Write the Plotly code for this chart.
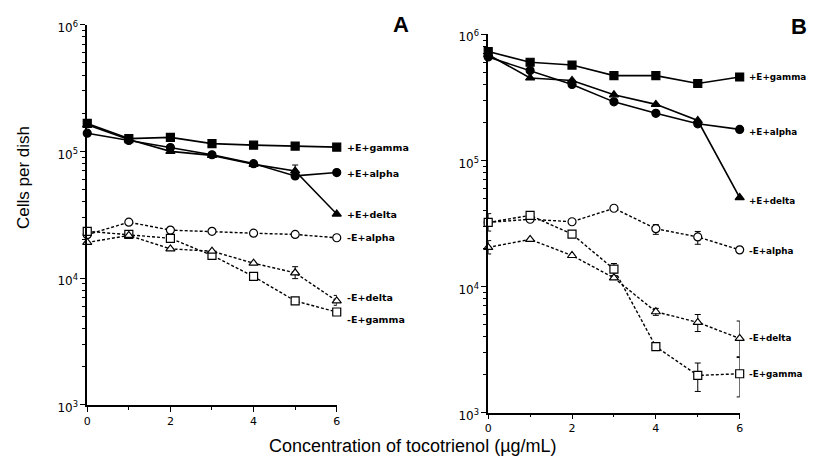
import plotly.graph_objects as go
import math

# ---------------- data ----------------
conc = [0, 1, 2, 3, 4, 5, 6]

# Panel A
a_pE_gamma = [166000, 126000, 129000, 115000, 112000, 110000, 108000]
a_pE_alpha = [139000, 122000, 107000, 94000, 80000, 64000, 68000]
a_pE_delta = [162000, 124000, 100000, 93000, 79000, 70000, 32000]
a_mE_alpha = [22000, 27600, 23900, 23400, 22600, 22100, 20800]
a_mE_gamma = [23400, 22100, 20600, 15100, 10300, 6600, 5400]
a_mE_delta = [19100, 21700, 17000, 16300, 13100, 11000, 6600]
a_pE_delta_err_up = [0, 0, 0, 0, 0, 8000, 0]
a_mE_delta_err_up = [0, 0, 0, 0, 0, 1300, 700]
a_mE_delta_err_dn = [0, 0, 0, 0, 0, 1100, 500]

# Panel B
b_pE_gamma = [730000, 600000, 570000, 470000, 470000, 407000, 458000]
b_pE_alpha = [660000, 515000, 400000, 291000, 236000, 195000, 176000]
b_pE_delta = [690000, 450000, 430000, 331000, 278000, 207000, 50700]
b_mE_alpha = [32200, 34100, 32600, 41700, 28700, 24700, 19500]
b_mE_gamma = [32200, 36600, 26000, 13700, 3330, 1970, 2030]
b_mE_delta = [20400, 23600, 17600, 11700, 6300, 5190, 3870]
b_mE_alpha_err_up = [0, 0, 0, 0, 2200, 2600, 0]
b_mE_alpha_err_dn = [0, 0, 0, 0, 2800, 3100, 0]
b_mE_gamma_err_up = [5600, 0, 0, 1500, 0, 500, 700]
b_mE_gamma_err_dn = [4700, 0, 0, 1500, 0, 500, 700]
b_mE_delta_err_up = [2700, 0, 0, 0, 400, 800, 1450]
b_mE_delta_err_dn = [2300, 0, 0, 0, 400, 800, 1100]

series_names = ["+E+gamma", "+E+alpha", "+E+delta", "-E+alpha", "-E+gamma", "-E+delta"]
y_tick_vals = [1e3, 1e4, 1e5, 1e6]
y_tick_text = ["10<sup>3</sup>", "10<sup>4</sup>", "10<sup>5</sup>", "10<sup>6</sup>"]
x_tick_vals = [0, 2, 4, 6]
x_tick_text = ["0", "2", "4", "6"]
panel_letters = ["A", "B"]
x_title = "Concentration of tocotrienol (µg/mL)"
y_title = "Cells per dish"

minor_vals = [m * 10 ** e for e in range(3, 6) for m in range(2, 10)]

# page has an 8px body margin; figure sized to fit the 819x473 window
OFF = 8
W, H = 819 - 2 * OFF, 473 - 2 * OFF

def px(x):
    return (x - OFF) / W

def py(y):
    return 1 - (y - OFF) / H

fig = go.Figure()

def add_series(y, xa, ya, symbol, solid, err_up=None, err_dn=None):
    err = None
    if err_up is not None:
        err = dict(type="data", array=err_up, arrayminus=err_dn if err_dn is not None else err_up,
                   symmetric=False, color="black", thickness=1, width=3)
    fig.add_trace(go.Scatter(
        x=conc, y=y, xaxis=xa, yaxis=ya, mode="lines+markers",
        line=dict(color="black", width=1.6 if solid else 1.4, dash="solid" if solid else "3px,2px"),
        marker=dict(symbol=symbol, size=8, color="black" if solid else "white",
                    line=dict(color="black", width=1.2)),
        error_y=err, cliponaxis=False, showlegend=False))

# Panel A
add_series(a_pE_gamma, "x", "y", "square", True)
add_series(a_pE_alpha, "x", "y", "circle", True)
add_series(a_pE_delta, "x", "y", "triangle-up", True, a_pE_delta_err_up, [0] * 7)
add_series(a_mE_alpha, "x", "y", "circle", False)
add_series(a_mE_gamma, "x", "y", "square", False)
add_series(a_mE_delta, "x", "y", "triangle-up", False, a_mE_delta_err_up, a_mE_delta_err_dn)

# Panel B
add_series(b_pE_gamma, "x2", "y2", "square", True)
add_series(b_pE_alpha, "x2", "y2", "circle", True)
add_series(b_pE_delta, "x2", "y2", "triangle-up", True)
add_series(b_mE_alpha, "x2", "y2", "circle", False, b_mE_alpha_err_up, b_mE_alpha_err_dn)
add_series(b_mE_gamma, "x2", "y2", "square", False, b_mE_gamma_err_up, b_mE_gamma_err_dn)
add_series(b_mE_delta, "x2", "y2", "triangle-up", False, b_mE_delta_err_up, b_mE_delta_err_dn)

label_font_a = dict(family="DejaVu Sans", size=9.5, color="black")
label_font_b = dict(family="DejaVu Sans", size=8.8, color="black")
ann = []
a_last = [a_pE_gamma[-1], a_pE_alpha[-1], a_pE_delta[-1], a_mE_alpha[-1], a_mE_gamma[-1], a_mE_delta[-1]]
a_shift = [0, -1, 0, 0, -7, 3]
for name, v, s in zip(series_names, a_last, a_shift):
    ann.append(dict(x=6, y=math.log10(v), xref="x", yref="y", text="<b>%s</b>" % name,
                    showarrow=False, xanchor="left", yanchor="middle", xshift=8, yshift=s, font=label_font_a))
b_last = [b_pE_gamma[-1], b_pE_alpha[-1], b_pE_delta[-1], b_mE_alpha[-1], b_mE_gamma[-1], b_mE_delta[-1]]
b_shift = [0, -3, -3, -1, 0, 0]
for name, v, s in zip(series_names, b_last, b_shift):
    ann.append(dict(x=6, y=math.log10(v), xref="x2", yref="y2", text="<b>%s</b>" % name,
                    showarrow=False, xanchor="left", yanchor="middle", xshift=7, yshift=s, font=label_font_b))

big = dict(family="Liberation Sans, Arial", size=22, color="black")
ann.append(dict(x=px(401), y=py(19), xref="paper", yref="paper", text="<b>%s</b>" % panel_letters[0],
                showarrow=False, xanchor="center", yanchor="middle", font=big))
ann.append(dict(x=px(803), y=py(21), xref="paper", yref="paper", text="<b>%s</b>" % panel_letters[1],
                showarrow=False, xanchor="center", yanchor="middle", font=big))
ann.append(dict(x=px(413), y=py(456), xref="paper", yref="paper", text=x_title,
                showarrow=False, xanchor="center", yanchor="middle",
                font=dict(family="Liberation Sans, Arial", size=18, color="black")))
ann.append(dict(x=px(19), y=py(177), xref="paper", yref="paper", text=y_title, textangle=-90,
                showarrow=False, xanchor="center", yanchor="middle",
                font=dict(family="Liberation Sans, Arial", size=17, color="black")))

xaxis_common = dict(range=[0, 6], tickvals=x_tick_vals, ticktext=x_tick_text, ticks="outside", ticklen=5,
                    tickcolor="black", showline=True, linecolor="black", linewidth=1.5, showgrid=False,
                    zeroline=False, tickfont=dict(family="DejaVu Sans", size=11, color="black"),
                    minor=dict(tickvals=[1, 3, 5], ticks="outside", ticklen=3, tickcolor="black"))
yaxis_common = dict(type="log", range=[3, 6], tickvals=y_tick_vals, ticktext=y_tick_text, ticks="outside",
                    ticklen=5, tickcolor="black", showline=True, linecolor="black", linewidth=1.5,
                    showgrid=False, zeroline=False, ticklabelshift=3,
                    tickfont=dict(family="DejaVu Sans", size=12, color="black"),
                    minor=dict(tickvals=minor_vals, ticks="outside", ticklen=3, tickcolor="black"))

fig.update_layout(
    width=W, height=H, margin=dict(l=0, r=0, t=0, b=0),
    paper_bgcolor="white", plot_bgcolor="white",
    xaxis=dict(domain=[px(84), px(336)], anchor="y", **xaxis_common),
    yaxis=dict(domain=[py(413), py(19)], anchor="x", **yaxis_common),
    xaxis2=dict(domain=[px(489), px(743)], anchor="y2", **xaxis_common),
    yaxis2=dict(domain=[py(421), py(29)], anchor="x2", **yaxis_common),
    annotations=ann,
)

fig.write_html("out.html")
